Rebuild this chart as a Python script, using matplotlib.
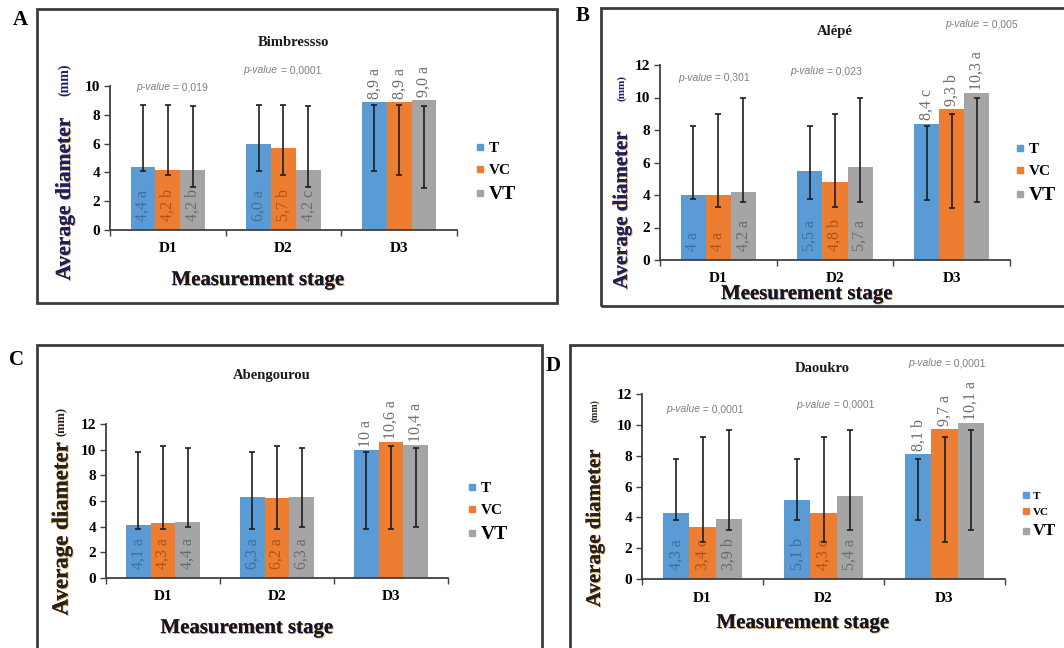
import numpy as np
import matplotlib.pyplot as plt
import matplotlib.patheffects as pe
from matplotlib.patches import Rectangle
from matplotlib.lines import Line2D

plt.rcParams['font.family'] = ['Liberation Serif', 'DejaVu Serif']

W, H = 1064, 648

stages = ['D1', 'D2', 'D3']
treatments = ['T', 'VC', 'VT']
colors = ['#5B9BD5', '#ED7D31', '#A5A5A5']
inner_text = ['#3f6d9c', '#a9541c', '#6a6a6a']

# Bimbresso
bim_T = [4.4, 6.0, 8.9]
bim_VC = [4.2, 5.7, 8.9]
bim_VT = [4.2, 4.2, 9.0]
bim_labels = [['4,4 a', '6,0 a', '8,9 a'], ['4,2 b', '5,7 b', '8,9 a'], ['4,2 b', '4,2 c', '9,0 a']]
bim_err_lo = [[4.1, 4.1, 4.1], [3.8, 3.8, 3.8], [3.0, 3.0, 2.9]]
bim_err_hi = [[8.7, 8.7, 8.7], [8.7, 8.7, 8.7], [8.6, 8.6, 8.6]]
bim_pvalues = ['0,019', '0,0001']

# Alépé
ale_T = [4.0, 5.5, 8.4]
ale_VC = [4.0, 4.8, 9.3]
ale_VT = [4.2, 5.7, 10.3]
ale_labels = [['4 a', '5,5 a', '8,4 c'], ['4 a', '4,8 b', '9,3 b'], ['4,2 a', '5,7 a', '10,3 a']]
ale_err_lo = [[3.75, 3.75, 3.7], [3.25, 3.25, 3.2], [3.6, 3.6, 3.6]]
ale_err_hi = [[8.25, 8.25, 8.25], [9.0, 9.0, 9.0], [10.0, 10.0, 10.0]]
ale_pvalues = ['0,301', '0,023', '0,005']

# Abengourou
abe_T = [4.1, 6.3, 10.0]
abe_VC = [4.3, 6.2, 10.6]
abe_VT = [4.4, 6.3, 10.4]
abe_labels = [['4,1 a', '6,3 a', '10 a'], ['4,3 a', '6,2 a', '10,6 a'], ['4,4 a', '6,3 a', '10,4 a']]
abe_err_lo = [[3.85, 3.85, 3.85], [3.8, 3.8, 3.8], [4.0, 4.0, 4.0]]
abe_err_hi = [[9.8, 9.8, 9.8], [10.3, 10.3, 10.3], [10.15, 10.15, 10.15]]
abe_pvalues = []

# Daoukro
dao_T = [4.3, 5.1, 8.1]
dao_VC = [3.4, 4.3, 9.7]
dao_VT = [3.9, 5.4, 10.1]
dao_labels = [['4,3 a', '5,1 b', '8,1 b'], ['3,4 c', '4,3 c', '9,7 a'], ['3,9 b', '5,4 a', '10,1 a']]
dao_err_lo = [[3.8, 3.8, 3.8], [2.4, 2.4, 2.4], [3.2, 3.2, 3.2]]
dao_err_hi = [[7.8, 7.8, 7.8], [9.2, 9.2, 9.2], [9.65, 9.65, 9.65]]
dao_pvalues = ['0,0001', '0,0001', '0,0001']

panels = [
    dict(letter='A', title='Bimbressso', vals=[bim_T, bim_VC, bim_VT], labels=bim_labels,
         lo=bim_err_lo, hi=bim_err_hi, pvals=bim_pvalues, ymax=10,
         xlabel='Measurement stage',
         axes=(110, 86, 457, 230), box=(37, 9, 557, 303), letter_xy=(20, 20),
         title_xy=(293, 42), pv_xy=[(0.02, 9.9), (0.95, 11.1)],
         ylab_xy=(65, 199, 80), ylab_size=(15.5, 10), ylab_color='#1c2060',
         xlab_xy=(258, 280), leg_xy=(475, 172), leg_size=(11, 11, 14)),
    dict(letter='B', title='Alépé', vals=[ale_T, ale_VC, ale_VT], labels=ale_labels,
         lo=ale_err_lo, hi=ale_err_hi, pvals=ale_pvalues, ymax=12,
         xlabel='Meesurement stage',
         axes=(660, 65, 1010, 260), box=(601, 8, 1070, 306), letter_xy=(583, 16),
         title_xy=(835, 32), pv_xy=[(-0.05, 11.2), (0.91, 11.6), (2.24, 14.5)],
         ylab_xy=(622, 210, 88), ylab_size=(15, 8), ylab_color='#1c2060',
         xlab_xy=(807, 294), leg_xy=(1015, 173), leg_size=(11, 11, 14)),
    dict(letter='C', title='Abengourou', vals=[abe_T, abe_VC, abe_VT], labels=abe_labels,
         lo=abe_err_lo, hi=abe_err_hi, pvals=abe_pvalues, ymax=12,
         xlabel='Measurement stage',
         axes=(106, 424, 448, 578), box=(37, 345, 542, 652), letter_xy=(17, 360),
         title_xy=(272, 375), pv_xy=[],
         ylab_xy=(62, 529, 421), ylab_size=(16.5, 9), ylab_color='#2b2016',
         xlab_xy=(247, 628), leg_xy=(467, 512), leg_size=(11, 11, 14)),
    dict(letter='D', title='Daoukro', vals=[dao_T, dao_VC, dao_VT], labels=dao_labels,
         lo=dao_err_lo, hi=dao_err_hi, pvals=dao_pvalues, ymax=12,
         xlabel='Measurement stage',
         axes=(642, 394, 1005, 579), box=(570, 345, 1070, 652), letter_xy=(553, 366),
         title_xy=(822, 368), pv_xy=[(-0.02, 11.0), (1.06, 11.3), (1.98, 14.0)],
         ylab_xy=(595, 528, 411), ylab_size=(15, 7), ylab_color='#2b2016',
         xlab_xy=(803, 623), leg_xy=(1023, 515), leg_size=(8, 8, 12)),
]


def fx(x):
    return x / W


def fy(y):
    return 1 - y / H


fig = plt.figure(figsize=(W / 100, H / 100), dpi=100)
fig.patch.set_facecolor('white')

shadow = [pe.withSimplePatchShadow(offset=(0.7, -0.7), shadow_rgbFace='#d89a48', alpha=0.8), pe.Normal()]
w = 0.215
x = np.arange(len(stages))

for p in panels:
    l, t, r, b = p['axes']
    ax = fig.add_axes([fx(l), fy(b), fx(r - l), (b - t) / H])

    for i in range(3):
        xs = x + (i - 1) * w
        vals = p['vals'][i]
        ax.bar(xs, vals, w, color=colors[i], zorder=2)
        lo = np.array(p['lo'][i])
        hi = np.array(p['hi'][i])
        ax.errorbar(xs, (lo + hi) / 2, yerr=(hi - lo) / 2, fmt='none', ecolor='#1e1e1e',
                    elinewidth=1.2, capsize=2.5, capthick=1.2, zorder=3)
        for j, v in enumerate(vals):
            if j < 2:
                ax.annotate(p['labels'][i][j], (xs[j], 0), xytext=(0, 9), textcoords='offset pixels',
                            rotation=90, ha='center', va='bottom', fontsize=11.5,
                            color=inner_text[i], zorder=4)
            else:
                ax.annotate(p['labels'][i][j], (xs[j], v), xytext=(0, 3), textcoords='offset pixels',
                            rotation=90, ha='center', va='bottom', fontsize=11.5,
                            color='#6e6e6e', annotation_clip=False, zorder=4)

    # p-value notes above each stage
    for pv, (px, py) in zip(p['pvals'], p['pv_xy']):
        t1 = ax.text(px, py, 'p-value', fontsize=7.5, style='italic', color='#808080',
                     family=['Liberation Sans', 'DejaVu Sans'], ha='right', va='center', clip_on=False)
        ax.annotate(' = ' + pv, xy=(1, 0.5), xycoords=t1, va='center', ha='left', fontsize=7.5,
                    color='#808080', family=['Liberation Sans', 'DejaVu Sans'])

    ax.set_xlim(-0.5, 2.5)
    ax.set_ylim(0, p['ymax'])
    ax.set_yticks(range(0, p['ymax'] + 1, 2), [str(v) for v in range(0, p['ymax'] + 1, 2)],
                  fontweight='bold', fontsize=11)
    ax.set_xticks(x, stages, fontweight='bold', fontsize=11)
    ax.set_xticks([-0.5, 0.5, 1.5, 2.5], minor=True)
    ax.tick_params(axis='x', which='major', length=0, pad=9)
    ax.tick_params(axis='x', which='minor', length=4, width=1, color='#404040', direction='out')
    ax.tick_params(axis='y', length=4, width=1, color='#404040', direction='out', pad=3)
    for s in ['top', 'right']:
        ax.spines[s].set_visible(False)
    for s in ['left', 'bottom']:
        ax.spines[s].set_color('#404040')
        ax.spines[s].set_linewidth(1.3)

    # frame, panel letter, title and axis labels
    x0, y0, x1, y1 = p['box']
    fig.add_artist(Rectangle((fx(x0), fy(y1)), fx(x1 - x0), (y1 - y0) / H, transform=fig.transFigure,
                             fill=False, lw=2, ec='#3c3c3c'))
    fig.text(fx(p['letter_xy'][0]), fy(p['letter_xy'][1]), p['letter'], fontsize=15,
             fontweight='bold', ha='center', va='center')
    fig.text(fx(p['title_xy'][0]), fy(p['title_xy'][1]), p['title'], fontsize=10.5,
             fontweight='bold', ha='center', va='center', color='#1a1a1a')
    yx, yc, mc = p['ylab_xy']
    fig.text(fx(yx), fy(yc), 'Average diameter', rotation=90, fontsize=p['ylab_size'][0],
             fontweight='bold', ha='center', va='center', color=p['ylab_color'], path_effects=shadow)
    fig.text(fx(yx), fy(mc), '(mm)', rotation=90, fontsize=p['ylab_size'][1],
             fontweight='bold', ha='center', va='center', color=p['ylab_color'])
    fig.text(fx(p['xlab_xy'][0]), fy(p['xlab_xy'][1]), p['xlabel'], fontsize=15,
             fontweight='bold', ha='center', va='center', color='#15152a', path_effects=shadow)

    handles = [Line2D([], [], marker='s', ls='', color=c, markersize=5) for c in colors]
    leg = fig.legend(handles, treatments, loc='center left',
                     bbox_to_anchor=(fx(p['leg_xy'][0]), fy(p['leg_xy'][1])),
                     frameon=False, handlelength=0.6, handletextpad=0.3, labelspacing=0.55,
                     borderpad=0, borderaxespad=0, prop={'weight': 'bold', 'size': p['leg_size'][0]})
    for txt, size in zip(leg.get_texts(), p['leg_size']):
        txt.set_fontsize(size)

fig.savefig('out.png', dpi=100)
